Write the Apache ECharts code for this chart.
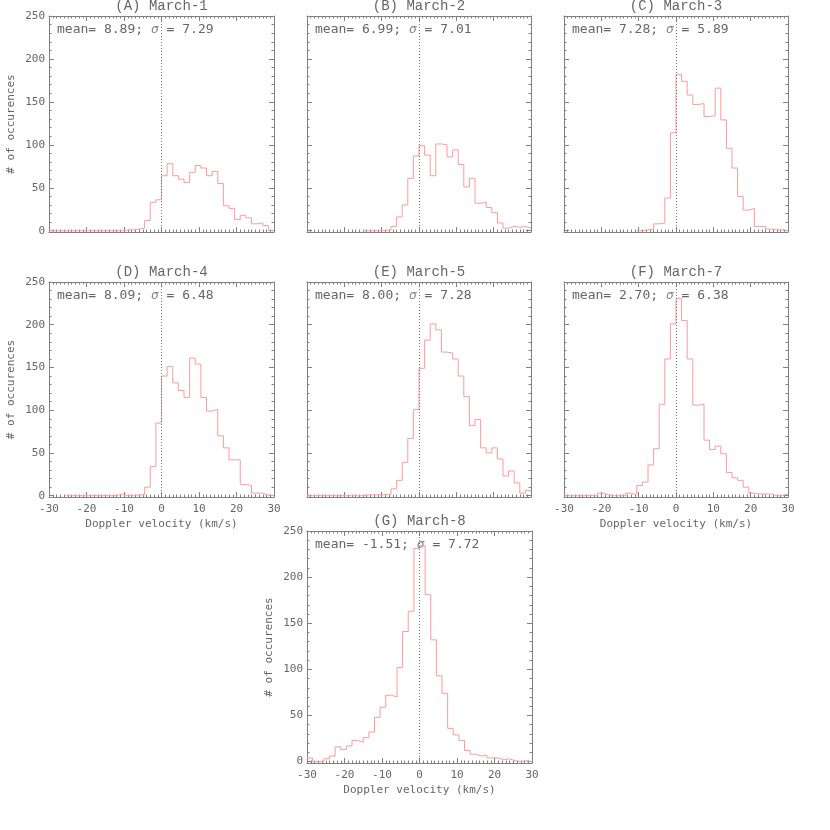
<!DOCTYPE html>
<html>
<head>
<meta charset="utf-8">
<script src="https://cdn.jsdelivr.net/npm/echarts@6/dist/echarts.min.js"></script>
<style>html,body{margin:0;padding:0;background:#fff}#c{width:830px;height:830px}</style>
</head>
<body>
<div id="c"></div>
<script>
// ---- data ----
const binEdges = [-30,-28.5,-27,-25.5,-24,-22.5,-21,-19.5,-18,-16.5,-15,-13.5,-12,-10.5,-9,-7.5,-6,-4.5,-3,-1.5,0,1.5,3,4.5,6,7.5,9,10.5,12,13.5,15,16.5,18,19.5,21,22.5,24,25.5,27,28.5,30];
const panelTitles = ['(A) March-1','(B) March-2','(C) March-3','(D) March-4','(E) March-5','(F) March-7','(G) March-8'];
const means  = [8.89, 6.99, 7.28, 8.09, 8.00, 2.70, -1.51];
const sigmas = [7.29, 7.01, 5.89, 6.48, 7.28, 6.38, 7.72];
const countsA = [0,0,0,0,0,0,0,0,0,0,0,0,0,1,1,2,3,12,33,36,64,78,64,60,56,68,76,73,64,69,55,29,26,13,18,15,8,9,6,0];
const countsB = [null,null,null,null,null,null,null,null,null,null,0,0,0,0,1,5,16,30,61,87,99,88,64,101,100,86,94,77,51,61,32,33,27,21,9,3,5,4,5,3];
const countsC = [null,null,null,null,null,null,null,null,null,null,null,null,null,0,1,2,8,9,38,114,182,174,158,147,148,133,134,166,129,96,73,40,24,26,5,5,2,1,1,0];
const countsD = [null,null,null,0,0,0,0,0,0,0,0,0,2,0,0,1,1,10,34,85,140,151,132,123,115,161,154,115,99,101,70,56,42,42,13,12,3,3,1,0];
const countsE = [0,0,0,0,0,0,0,0,0,0,1,1,1,1,2,8,18,39,67,101,149,182,201,194,168,167,160,140,116,82,89,56,50,56,43,23,29,15,3,6];
const countsF = [0,0,0,0,0,0,3,1,0,0,0,3,1,12,16,36,55,107,160,201,231,205,160,106,107,65,54,58,49,27,21,18,10,3,2,2,2,0,0,2];
const countsG = [4,0,0,3,6,16,13,17,23,21,26,32,48,59,72,70,102,141,163,231,234,181,132,93,74,36,29,23,12,8,6,7,4,4,2,3,1,0,1,0];
const allCounts = [countsA,countsB,countsC,countsD,countsE,countsF,countsG];
const yMajorTicks = [0,50,100,150,200,250];
const yMinorTicks = [10,20,30,40,60,70,80,90,110,120,130,140,160,170,180,190,210,220,230,240];
const xName = 'Doppler velocity (km/s)';
const yName = '# of occurences';

// ---- layout / style ----
const layout = [
  {left:49,  top:16,  width:225, height:216, xLab:false, yLab:true},
  {left:307, top:16,  width:224, height:216, xLab:false, yLab:false},
  {left:564, top:16,  width:224, height:216, xLab:false, yLab:false},
  {left:49,  top:282, width:225, height:215, xLab:true,  yLab:true},
  {left:307, top:282, width:224, height:215, xLab:false, yLab:false},
  {left:564, top:282, width:224, height:215, xLab:true,  yLab:false},
  {left:307, top:531, width:225, height:232, xLab:true,  yLab:true}
];
const AX = '#808080', TX = '#666666', RED = '#ff9a9a';
const MONO = 'DejaVu Sans Mono';

const option = {animation:false, backgroundColor:'#ffffff', grid:[], xAxis:[], yAxis:[], series:[], title:[]};

layout.forEach((L, i) => {
  option.grid.push({left:L.left, top:L.top, width:L.width, height:L.height, show:false, containLabel:false, outerBoundsMode:'none'});
  const lineSt = {color:AX, width:1};
  const xBase = {
    gridIndex:i, type:'value', min:-30, max:30, interval:10,
    axisLine:{show:true, onZero:false, lineStyle:lineSt},
    axisTick:{show:true, inside:true, length:5, lineStyle:lineSt},
    minorTick:{show:true, splitNumber:10, length:2.5, lineStyle:lineSt},
    splitLine:{show:false}, minorSplitLine:{show:false}
  };
  option.xAxis.push(Object.assign({}, xBase, {
    position:'bottom',
    axisLabel:{show:L.xLab, margin:7, fontFamily:MONO, fontSize:11, color:TX},
    name: L.xLab ? xName : '', nameLocation:'middle', nameGap:22,
    nameTextStyle:{fontFamily:MONO, fontSize:11, color:TX}
  }));
  option.xAxis.push(Object.assign({}, xBase, {position:'top', axisLabel:{show:false}}));

  const yBase = {gridIndex:i, type:'value', min:-1.5, max:250, splitLine:{show:false}, minorTick:{show:false}};
  ['left','right'].forEach(pos => {
    option.yAxis.push(Object.assign({}, yBase, {
      position:pos,
      axisLine:{show:true, onZero:false, lineStyle:lineSt},
      axisTick:{show:true, inside:true, length:5, customValues:yMajorTicks, lineStyle:lineSt},
      axisLabel:{show: pos==='left' && L.yLab, customValues:yMajorTicks, margin:4, fontFamily:MONO, fontSize:11, color:TX},
      name: (pos==='left' && L.yLab) ? yName : '', nameLocation:'middle', nameGap:32, nameRotate:90,
      nameTextStyle:{fontFamily:MONO, fontSize:11, color:TX}
    }));
    option.yAxis.push(Object.assign({}, yBase, {
      position:pos,
      axisLine:{show:false, onZero:false},
      axisTick:{show:true, inside:true, length:2.5, customValues:yMinorTicks, lineStyle:lineSt},
      axisLabel:{show:false}
    }));
  });

  const counts = allCounts[i];
  const data = binEdges.map((e, k) => [e, counts[Math.min(k, counts.length - 1)]]);
  option.series.push({
    type:'line', xAxisIndex:2*i, yAxisIndex:4*i, step:'end', symbol:'none', showSymbol:false,
    data:data, connectNulls:false,
    lineStyle:{color:RED, width:1}, emphasis:{disabled:true}, silent:true,
    markLine:{silent:true, symbol:['none','none'], label:{show:false},
      lineStyle:{type:[1,2], color:'#777777', width:1}, emphasis:{disabled:true},
      data:[{xAxis:0}]}
  });

  option.title.push({
    text:panelTitles[i], left:L.left + L.width/2, top:L.top - 17, textAlign:'center', padding:0,
    textStyle:{fontFamily:'Liberation Mono', fontSize:14, fontWeight:'normal', color:TX}
  });
  option.title.push({
    text:'mean= ' + means[i].toFixed(2) + '; {s|σ} = ' + sigmas[i].toFixed(2),
    left:L.left + 8, top:L.top + 7, textAlign:'left', padding:0,
    textStyle:{fontFamily:MONO, fontSize:13, fontWeight:'normal', color:TX,
      rich:{s:{fontFamily:MONO, fontSize:13, fontStyle:'italic', color:'#888888'}}}
  });
});

const chart = echarts.init(document.getElementById('c'), null, {renderer:'canvas'});
chart.setOption(option);
</script>
</body>
</html>
